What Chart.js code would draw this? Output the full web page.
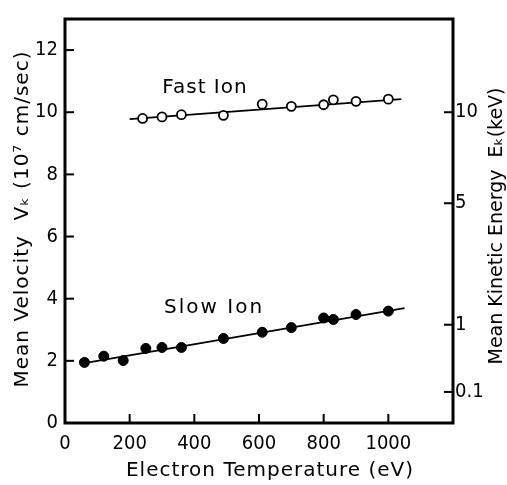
<!DOCTYPE html>
<html>
<head>
<meta charset="utf-8">
<script src="https://cdn.jsdelivr.net/npm/chart.js@4.4.0/dist/chart.umd.min.js"></script>
<style>
  body { margin: 0; background: #fff; }
  #wrap { width: 507px; height: 485px; }
</style>
</head>
<body>
<div id="wrap"><canvas id="ionChart" width="507" height="485"></canvas></div>
<script>
// measured points (electron temperature in eV, velocity in 10^7 cm/sec)
const fastTemp = [240, 300, 360, 490, 610, 700, 800, 830, 900, 1000];
const fastVel  = [9.80, 9.85, 9.92, 9.90, 10.26, 10.19, 10.24, 10.40, 10.35, 10.42];
const slowTemp = [60, 120, 180, 250, 300, 360, 490, 610, 700, 800, 830, 900, 1000];
const slowVel  = [1.95, 2.15, 2.01, 2.40, 2.43, 2.43, 2.72, 2.92, 3.07, 3.38, 3.33, 3.49, 3.60];
// fitted straight lines
const fastFitTemp = [200, 1040];
const fastFitVel  = [9.78, 10.42];
const slowFitTemp = [60, 1050];
const slowFitVel  = [1.93, 3.70];
// axes
const tempTicks   = [0, 200, 400, 600, 800, 1000];
const velTicks    = [0, 2, 4, 6, 8, 10, 12];
const energyTicks = [0.1, 1, 5, 10];   // keV, E = v^2 / 10

const FONT = "'DejaVu Sans', sans-serif";
const TICK_FONT = {family: "'DejaVu Sans Condensed', 'DejaVu Sans', sans-serif", size: 20};

function pts(xs, ys) {
    return xs.map((x, i) => ({x: x, y: ys[i]}));
}

const framePlugin = {
    id: 'frame',
    afterDraw(chart) {
        const ctx = chart.ctx;
        const a = chart.chartArea;
        ctx.save();
        ctx.strokeStyle = '#000';
        // inward ticks
        ctx.lineWidth = 2;
        const len = 9;
        chart.scales.x.ticks.forEach(t => {
            const px = chart.scales.x.getPixelForValue(t.value);
            ctx.beginPath(); ctx.moveTo(px, a.bottom); ctx.lineTo(px, a.bottom - len); ctx.stroke();
        });
        chart.scales.y.ticks.forEach(t => {
            const py = chart.scales.y.getPixelForValue(t.value);
            ctx.beginPath(); ctx.moveTo(a.left, py); ctx.lineTo(a.left + len, py); ctx.stroke();
        });
        chart.scales.y2.ticks.forEach(t => {
            const py = chart.scales.y2.getPixelForValue(t.value);
            ctx.beginPath(); ctx.moveTo(a.right, py); ctx.lineTo(a.right - len, py); ctx.stroke();
        });
        // box
        ctx.lineWidth = 3;
        ctx.strokeRect(a.left, a.top, a.right - a.left, a.bottom - a.top);

        // series names, placed in data coordinates
        const sx = chart.scales.x, sy = chart.scales.y;
        ctx.fillStyle = '#000';
        ctx.font = '20px ' + FONT;
        ctx.textAlign = 'center';
        ctx.textBaseline = 'middle';
        ctx.letterSpacing = '1px';
        ctx.fillText('Fast Ion', sx.getPixelForValue(433), sy.getPixelForValue(10.8));
        ctx.letterSpacing = '2px';
        ctx.fillText('Slow Ion', sx.getPixelForValue(461), sy.getPixelForValue(3.72));

        // axis titles
        ctx.letterSpacing = '1px';
        ctx.fillText('Electron Temperature (eV)', (a.left + a.right) / 2 + 11, 471);

        ctx.save();
        ctx.translate(23, (a.top + a.bottom) / 2 - 2);
        ctx.rotate(-Math.PI / 2);
        ctx.fillText('Mean Velocity  V\u2096 (10\u2077 cm/sec)', 0, 0);
        ctx.restore();

        ctx.save();
        ctx.translate(497, (a.top + a.bottom) / 2 + 5);
        ctx.rotate(-Math.PI / 2);
        ctx.letterSpacing = '0px';
        ctx.font = '19px ' + FONT;
        ctx.fillText('Mean Kinetic Energy  E\u2096(keV)', 0, 0);
        ctx.restore();
        ctx.restore();
    }
};

const noGrid = {display: false, drawTicks: false};

new Chart(document.getElementById('ionChart').getContext('2d'), {
    type: 'scatter',
    data: {
        datasets: [
            {
                label: 'Fast Ion',
                data: pts(fastTemp, fastVel),
                pointStyle: 'circle',
                pointRadius: 4.5,
                pointBackgroundColor: '#fff',
                pointBorderColor: '#000',
                pointBorderWidth: 1.8,
                showLine: false,
                order: 0
            },
            {
                label: 'Slow Ion',
                data: pts(slowTemp, slowVel),
                pointStyle: 'circle',
                pointRadius: 5,
                pointBackgroundColor: '#000',
                pointBorderColor: '#000',
                pointBorderWidth: 1,
                showLine: false,
                order: 0
            },
            {
                label: 'Fast fit',
                data: pts(fastFitTemp, fastFitVel),
                showLine: true,
                borderColor: '#000',
                borderWidth: 1.8,
                pointRadius: 0,
                order: 1
            },
            {
                label: 'Slow fit',
                data: pts(slowFitTemp, slowFitVel),
                showLine: true,
                borderColor: '#000',
                borderWidth: 1.8,
                pointRadius: 0,
                order: 1
            }
        ]
    },
    options: {
        responsive: false,
        animation: false,
        layout: {padding: {top: 11, left: 0, right: 0, bottom: 0}},
        plugins: {
            legend: {display: false},
            tooltip: {enabled: false},
            title: {display: false}
        },
        scales: {
            x: {
                type: 'linear',
                min: 0,
                max: 1200,
                grid: noGrid,
                border: {display: false},
                afterBuildTicks: s => { s.ticks = tempTicks.map(v => ({value: v})); },
                afterFit: s => { s.height = 62; },
                ticks: {color: '#000', font: TICK_FONT, padding: 9, maxRotation: 0,
                        callback: v => String(v)}
            },
            y: {
                type: 'linear',
                position: 'left',
                min: 0,
                max: 13,
                grid: noGrid,
                border: {display: false},
                afterBuildTicks: s => { s.ticks = velTicks.map(v => ({value: v})); },
                afterFit: s => { s.width = 65; },
                ticks: {color: '#000', font: TICK_FONT, padding: 7, callback: v => String(v)}
            },
            y2: {
                type: 'linear',
                position: 'right',
                min: 0,
                max: 13,
                grid: noGrid,
                border: {display: false},
                afterBuildTicks: s => { s.ticks = energyTicks.map(e => ({value: Math.sqrt(e * 10)})); },
                afterFit: s => { s.width = 54; },
                ticks: {
                    color: '#000',
                    font: TICK_FONT,
                    padding: 2,
                    callback: (v, i) => String(energyTicks[i])
                }
            }
        }
    },
    plugins: [framePlugin]
});
</script>
</body>
</html>
